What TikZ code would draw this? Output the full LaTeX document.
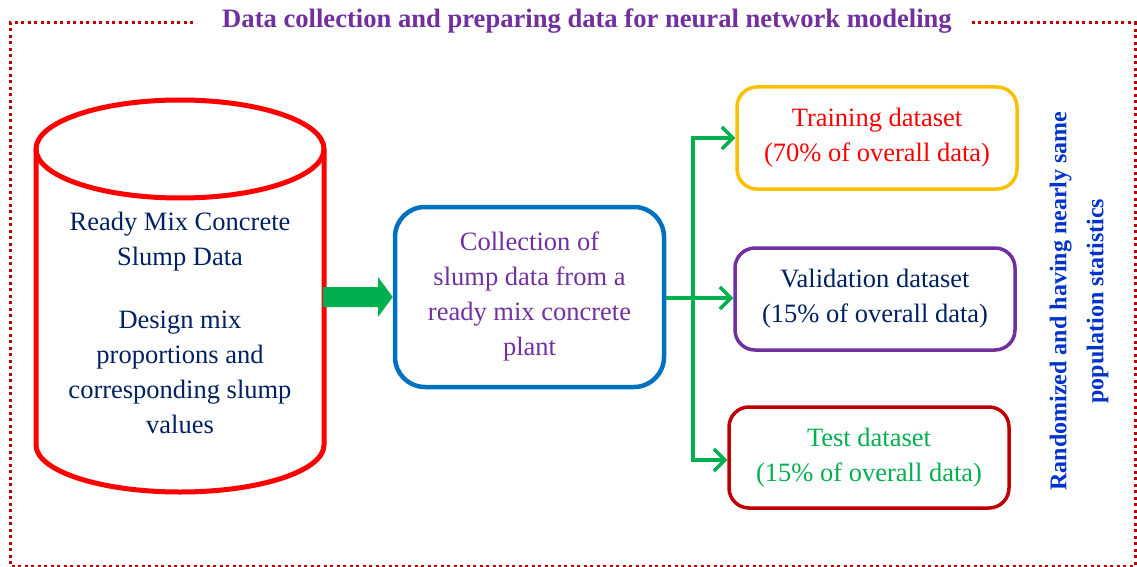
\documentclass[tikz,border=0pt]{standalone}
\usepackage{fontspec}
\setmainfont{Liberation Serif}
\usetikzlibrary{arrows.meta}
\definecolor{frameRed}{RGB}{192,0,0}
\definecolor{titlePurple}{RGB}{112,48,160}
\definecolor{cylRed}{RGB}{255,0,0}
\definecolor{navy}{RGB}{0,32,96}
\definecolor{boxBlue}{RGB}{0,112,192}
\definecolor{arrowGreen}{RGB}{0,176,80}
\definecolor{gold}{RGB}{255,192,0}
\definecolor{noteBlue}{RGB}{0,51,204}
\tikzset{
  body/.style={font=\fontsize{26.5}{35}\selectfont, align=center, inner sep=0pt},
  roundbox/.style={draw, line width=3.5pt, rounded corners=20pt, inner sep=0pt},
  branch/.style={draw=arrowGreen, line width=3.5pt, -{Straight Barb[length=11pt,width=22pt,line width=3.5pt]}},
  frameline/.style={draw=frameRed, line width=3pt, dash pattern=on 3pt off 3.5pt},
}
\begin{document}
\begin{tikzpicture}[x=1pt,y=-1pt]
\useasboundingbox (0,0) rectangle (1137,567);

% dotted outer frame with the title set into its top edge
\node[font=\fontsize{26.6}{30}\selectfont\bfseries, text=titlePurple, inner sep=0pt] (title) at (587,21) {Data collection and preparing data for neural network modeling};
\coordinate (ftl) at (10,23);
\coordinate (ftr) at (1135,23);
\draw[frameline] ([xshift=-29pt]title.west |- ftl) -- (ftl) -- (10,566) -- (1135,566) -- (ftr) -- ([xshift=20pt]title.east |- ftr);

% database cylinder
\draw[cylRed, line width=5pt] (180,149) ellipse [x radius=144, y radius=49];
\draw[cylRed, line width=5pt, line join=round] (36,149) -- (36,445) arc[start angle=180, end angle=0, x radius=144, y radius=47] -- (324,149);
\node[body, text=navy] (cyl) at (180,323) {Ready Mix Concrete\\Slump Data\\[28pt]Design mix\\proportions and\\corresponding slump\\values};

% collection box
\node[roundbox, draw=boxBlue, line width=4.5pt, rounded corners=30pt, minimum width=269pt, minimum height=180pt] (collect) at (529.5,297) {};
\node[body, text=titlePurple] (collecttxt) at (529.5,296) {Collection of\\slump data from a\\ready mix concrete\\plant};

% thick block arrow into the collection box
\coordinate (ba) at (323,297);
\fill[arrowGreen] (ba) ++(0,-10) -- (378,287) -- (378,277) -- (collect.west) -- (378,317) -- (378,307) -- (323,307) -- cycle;

% dataset boxes
\node[roundbox, draw=gold, minimum width=280pt, minimum height=102pt] (train) at (877,138) {};
\node[body, text=cylRed] at (train) {Training dataset\\(70\% of overall data)};
\node[roundbox, draw=titlePurple, minimum width=280pt, minimum height=102pt] (valid) at (875,299) {};
\node[body, text=navy] at (valid) {Validation dataset\\(15\% of overall data)};
\node[roundbox, draw=frameRed, minimum width=280pt, minimum height=101pt] (test) at (869,457.5) {};
\node[body, text=arrowGreen] at (test) {Test dataset\\(15\% of overall data)};

% split connectors
\coordinate (trunk) at (693,298);
\draw[draw=arrowGreen, line width=3.5pt] (collect.east |- trunk) -- (trunk);
\draw[branch] (trunk) -- (valid.west |- trunk);
\draw[branch] (trunk) -- (693,138) -- (train.west);
\draw[branch] (trunk) -- (693,460) -- (test.west |- 0,460);

% side note
\node[font=\fontsize{24}{37}\selectfont\bfseries, text=noteBlue, rotate=90, align=center, inner sep=0pt] (note) at (1079,301) {Randomized and having nearly same\\population statistics};
\end{tikzpicture}
\end{document}
